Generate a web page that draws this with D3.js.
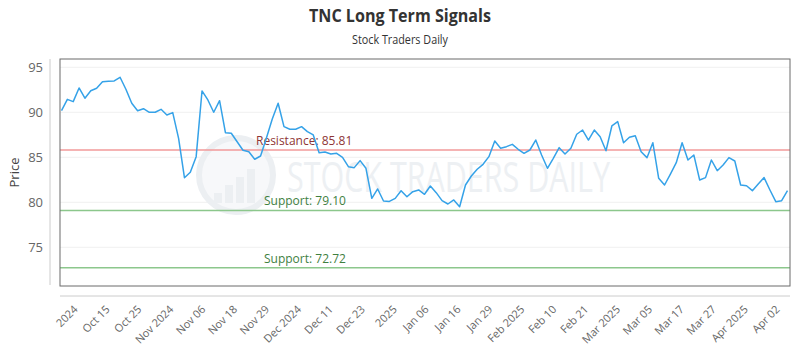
<!DOCTYPE html>
<html><head><meta charset="utf-8">
<script src="https://cdn.jsdelivr.net/npm/d3@7"></script>
<style>body{margin:0;background:#fff}svg{display:block}</style>
</head><body>
<svg id="c" width="800" height="350"></svg>
<script>
const titleText = "TNC Long Term Signals";
const subtitleText = "Stock Traders Daily";
const yTicks = [75, 80, 85, 90, 95];
const xLabels = ["2024","Oct 15","Oct 25","Nov 2024","Nov 06","Nov 18","Nov 29","Dec 2024","Dec 11","Dec 23","2025","Jan 06","Jan 16","Jan 29","Feb 2025","Feb 10","Feb 21","Mar 2025","Mar 05","Mar 17","Mar 27","Apr 2025","Apr 02"];
const prices = [90.18,91.44,91.18,92.70,91.56,92.40,92.67,93.40,93.44,93.48,93.89,92.56,91.00,90.18,90.40,90.00,90.00,90.33,89.70,89.96,
87.10,82.73,83.33,85.07,92.37,91.37,90.00,91.29,87.73,87.67,86.73,85.78,85.62,84.78,85.14,87.14,89.26,91.00,88.40,88.11,
88.11,88.40,87.85,87.48,85.51,85.59,85.37,85.44,85.00,83.96,83.85,84.63,83.78,80.44,81.48,80.14,80.10,80.44,81.29,80.62,
81.18,81.37,80.89,81.81,81.07,80.18,79.81,80.26,79.51,81.92,82.92,83.67,84.22,85.07,86.81,86.00,86.18,86.44,85.89,85.44,
85.81,86.92,85.26,83.78,84.89,86.07,85.37,86.00,87.56,88.03,86.92,88.03,87.29,85.73,88.48,88.96,86.62,87.22,87.40,85.62,
84.96,86.62,82.67,81.92,83.14,84.40,86.62,84.70,85.26,82.48,82.74,84.70,83.51,84.14,84.96,84.59,81.92,81.84,81.29,82.03,
82.74,81.37,80.07,80.18,81.29];
const levelNames = ["Resistance", "Support", "Support"];
const levelValues = [85.81, 79.10, 72.72];
const yLabel = "Price";

const svg = d3.select("#c");
const L = 60, R = 790, T = 59, B = 286;
const font = "'Open Sans', 'DejaVu Sans', sans-serif";

const y = d3.scaleLinear().domain([70.7, 95.92]).range([B, T]);
const x = d3.scaleLinear().domain([0, prices.length - 1]).range([L + 1.5, R - 2.5]);
const xl = d3.scalePoint().domain(xLabels).range([78, 780]);

// title
svg.append("text").attr("x", 400).attr("y", 22).attr("text-anchor", "middle")
  .attr("font-family", font).attr("font-weight", "bold").attr("font-size", 17).attr("fill", "#333")
  .attr("textLength", 182).attr("lengthAdjust", "spacingAndGlyphs").text(titleText);
svg.append("text").attr("x", 400).attr("y", 44).attr("text-anchor", "middle")
  .attr("font-family", font).attr("font-size", 12).attr("fill", "#333")
  .attr("textLength", 96).attr("lengthAdjust", "spacingAndGlyphs").text(subtitleText);

// gridlines
svg.append("g").selectAll("line").data(yTicks).join("line")
  .attr("x1", L).attr("x2", R).attr("y1", d => y(d)).attr("y2", d => y(d))
  .attr("stroke", "#f0f0f0").attr("stroke-width", 1);

// watermark
const wm = svg.append("g");
wm.append("circle").attr("cx", 236).attr("cy", 175).attr("r", 37)
  .attr("fill", "#f7f8fa").attr("stroke", "#eceff2").attr("stroke-width", 6);
[[-22, 10], [-11, 18], [0, 26], [11, 34]].forEach(([dx, h]) => {
  wm.append("rect").attr("x", 236 + dx).attr("y", 203 - h).attr("width", 8).attr("height", h).attr("fill", "#eceff2");
});
wm.append("text").attr("x", 287).attr("y", 192).attr("font-family", font)
  .attr("font-size", 42).attr("fill", "#edf0f3").attr("textLength", 323).attr("lengthAdjust", "spacingAndGlyphs")
  .text("STOCK TRADERS DAILY");

// level lines
const lvColors = ["#f29a9a", "#8cc78c", "#8cc78c"];
const lvText = ["#8e3535", "#3f7f3f", "#3f7f3f"];
const lvX = [256, 264, 264];
levelValues.forEach((v, i) => {
  svg.append("line").attr("x1", L).attr("x2", R).attr("y1", y(v)).attr("y2", y(v))
    .attr("stroke", lvColors[i]).attr("stroke-width", 1.5);
  svg.append("text").attr("x", lvX[i]).attr("y", y(v) - 5).attr("font-family", font).attr("font-size", 12)
    .attr("fill", lvText[i]).text(levelNames[i] + ": " + v.toFixed(2));
});

// price line
svg.append("path").datum(prices)
  .attr("d", d3.line().x((d, i) => x(i)).y(d => y(d)))
  .attr("fill", "none").attr("stroke", "#35a2e8").attr("stroke-width", 1.5).attr("stroke-linejoin", "round");

// frame
svg.append("rect").attr("x", L).attr("y", T).attr("width", R - L).attr("height", B - T)
  .attr("fill", "none").attr("stroke", "#6b6b6b").attr("stroke-width", 1);

// y axis
const ya = svg.append("g").attr("transform", "translate(50,0)")
  .call(d3.axisLeft(y).tickValues(yTicks).tickSize(0).tickPadding(7));
ya.select(".domain").attr("stroke", "#ccc").attr("d", `M0,${T}V${B - 1}`);
ya.selectAll("text").attr("font-family", font).attr("font-size", 13).attr("fill", "#666");

svg.append("text").attr("transform", `translate(19,${(T + B) / 2}) rotate(-90)`).attr("text-anchor", "middle")
  .attr("font-family", font).attr("font-size", 13).attr("fill", "#444").text(yLabel);

// x axis
const xa = svg.append("g").attr("transform", "translate(0,296)")
  .call(d3.axisBottom(xl).tickSize(0).tickPadding(0));
xa.select(".domain").attr("stroke", "#ccc").attr("d", `M${L},0H${R}`);
xa.selectAll("text").attr("font-family", font).attr("font-size", 11).attr("fill", "#666")
  .attr("text-anchor", "end").attr("dy", 0).attr("y", 0)
  .attr("transform", "translate(0,14) rotate(-45)");
</script>
</body></html>
